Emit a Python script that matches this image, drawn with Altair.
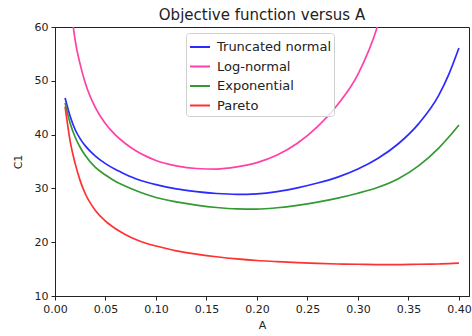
import altair as alt
import pandas as pd

series_names = ["Truncated normal", "Log-normal", "Exponential", "Pareto"]
series_colors = ["#2b2bff", "#ff40a6", "#339933", "#ff3030"]

a_grid = [0.01, 0.015, 0.02, 0.025, 0.03, 0.04, 0.05, 0.06, 0.07, 0.08, 0.09, 0.10,
          0.12, 0.14, 0.16, 0.18, 0.20, 0.22, 0.24, 0.26, 0.28, 0.30, 0.32, 0.34,
          0.36, 0.38, 0.39, 0.40]

trunc_normal = [46.8, 43.4, 40.9, 39.2, 37.9, 36.0, 34.6, 33.5, 32.6, 31.8, 31.2, 30.7,
                29.9, 29.4, 29.05, 28.9, 29.0, 29.4, 30.1, 31.0, 32.1, 33.6, 35.6, 38.3,
                42.0, 47.3, 51.2, 56.1]

exponential = [45.9, 42.1, 39.5, 37.6, 36.1, 33.9, 32.5, 31.3, 30.4, 29.6, 28.9, 28.3,
               27.5, 26.9, 26.45, 26.2, 26.15, 26.4, 26.85, 27.45, 28.2, 29.1, 30.2, 31.8,
               34.2, 37.5, 39.55, 41.8]

pareto = [45.2, 38.8, 34.6, 31.4, 29.0, 25.9, 23.9, 22.5, 21.4, 20.5, 19.8, 19.3,
          18.4, 17.8, 17.3, 16.9, 16.6, 16.4, 16.2, 16.05, 15.95, 15.9, 15.85, 15.85,
          15.9, 15.95, 16.0, 16.1]

a_lognormal = [0.01, 0.015, 0.02, 0.025, 0.03, 0.04, 0.05, 0.06, 0.07, 0.08, 0.09, 0.10,
               0.12, 0.14, 0.16, 0.18, 0.20, 0.22, 0.24, 0.26, 0.28, 0.30, 0.32, 0.34]
lognormal = [85.0, 66.0, 57.5, 53.0, 49.6, 45.0, 42.0, 39.9, 38.3, 37.0, 36.0, 35.2,
             34.2, 33.7, 33.6, 34.0, 34.8, 36.2, 38.4, 41.5, 45.6, 51.2, 60.5, 76.0]

x_ticks = [0.0, 0.05, 0.10, 0.15, 0.20, 0.25, 0.30, 0.35, 0.40]
y_ticks = [10, 20, 30, 40, 50, 60]

rows = []
for a, v in zip(a_grid, trunc_normal):
    rows.append({"A": a, "C1": v, "series": "Truncated normal"})
for a, v in zip(a_lognormal, lognormal):
    rows.append({"A": a, "C1": v, "series": "Log-normal"})
for a, v in zip(a_grid, exponential):
    rows.append({"A": a, "C1": v, "series": "Exponential"})
for a, v in zip(a_grid, pareto):
    rows.append({"A": a, "C1": v, "series": "Pareto"})
df = pd.DataFrame(rows)

FONT = "DejaVu Sans"

chart = alt.Chart(df).mark_line(clip=True, strokeWidth=1.7, interpolate="monotone").encode(
    x=alt.X("A:Q", title="A",
            scale=alt.Scale(domain=[0, 0.41], nice=False, zero=False),
            axis=alt.Axis(values=x_ticks, format=".2f", grid=False, tickSize=4,
                          labelPadding=3, titlePadding=5, labelFlush=False)),
    y=alt.Y("C1:Q", title="C1",
            scale=alt.Scale(domain=[10, 60], nice=False, zero=False),
            axis=alt.Axis(values=y_ticks, format="d", grid=False, tickSize=4,
                          labelPadding=3, titlePadding=11)),
    color=alt.Color("series:N",
                    scale=alt.Scale(domain=series_names, range=series_colors),
                    sort=series_names,
                    legend=alt.Legend(title=None, orient="none", legendX=131, legendY=6,
                                      symbolType="stroke", symbolStrokeWidth=2,
                                      symbolSize=400, labelFontSize=13, labelFont=FONT,
                                      labelColor="#222222", rowPadding=1.5,
                                      padding=3, fillColor="rgba(255,255,255,0.8)",
                                      strokeColor="#d0d0d0", cornerRadius=3,
                                      labelOffset=6)),
    detail="series:N",
).properties(
    width=414,
    height=269,
    title=alt.TitleParams("Objective function versus A", fontSize=15, font=FONT,
                          fontWeight="normal", color="#222222", offset=-2, anchor="middle"),
    autosize=alt.AutoSizeParams(type="none"),
    padding={"left": 55, "top": 27, "right": 3, "bottom": 40},
).configure_view(
    stroke="#222222", strokeWidth=1
).configure_axis(
    labelFont=FONT, titleFont=FONT, labelFontSize=11, titleFontSize=11,
    labelColor="#222222", titleColor="#222222", titleFontWeight="normal",
    domainColor="#222222", tickColor="#222222"
)

chart.save("out.html", embed_options={"renderer": "svg", "actions": False})
